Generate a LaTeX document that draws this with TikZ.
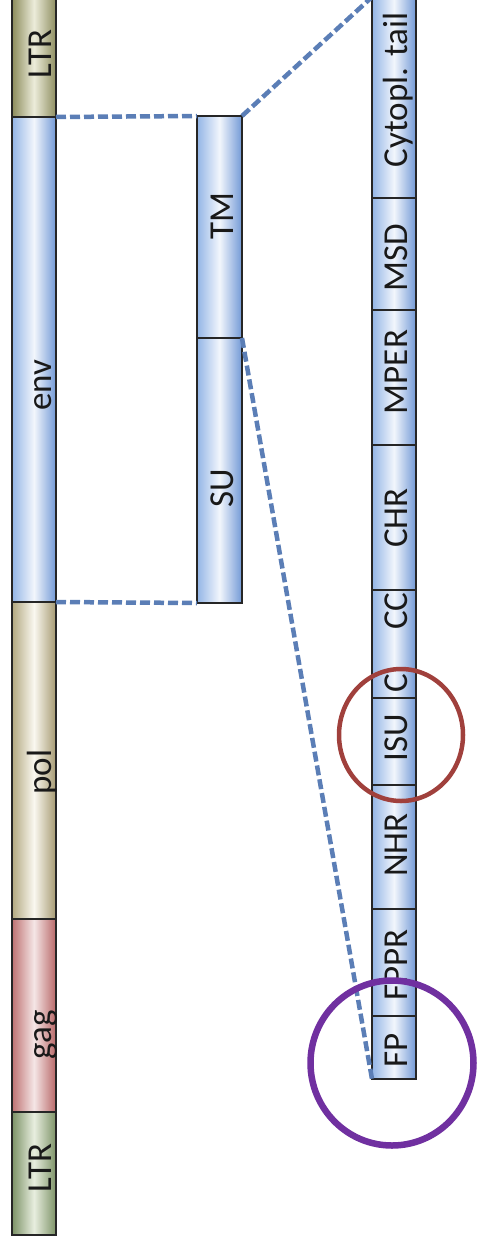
\documentclass[tikz,border=0pt]{standalone}
\usepackage{fontspec}
\setmainfont{Carlito}
\usetikzlibrary{shapes.geometric}

\definecolor{blueL}{HTML}{93B5E6}
\definecolor{blueM}{HTML}{F2F6FC}
\definecolor{blueR}{HTML}{7299D6}
\definecolor{oliveL}{HTML}{8C8C5C}
\definecolor{oliveM}{HTML}{ECECDA}
\definecolor{oliveR}{HTML}{8E8E60}
\definecolor{greenL}{HTML}{7C9266}
\definecolor{greenM}{HTML}{E8EEDF}
\definecolor{greenR}{HTML}{7D9367}
\definecolor{gagL}{HTML}{BE7272}
\definecolor{gagM}{HTML}{F5E6E6}
\definecolor{gagR}{HTML}{B86868}
\definecolor{polL}{HTML}{B2A880}
\definecolor{polM}{HTML}{FAF8F0}
\definecolor{polR}{HTML}{A69A72}
\definecolor{linkblue}{HTML}{5B7EB6}
\definecolor{ringred}{HTML}{A0403C}
\definecolor{ringpurple}{HTML}{7030A0}

% a shaded segment of a bar, given by its corners
\newcommand\seg[6]{%
  \node[#6, minimum width={(#4)-(#2)}, minimum height={(#5)-(#3)}]
    (#1) at ({((#2)+(#4))/2},{((#3)+(#5))/2}) {};}

\begin{document}
\begin{tikzpicture}[x=1pt,y=-1pt,
  seg/.style={draw=black!85, line width=1.2pt, rectangle, inner sep=0pt, outer sep=0pt},
  blueseg/.style={seg, left color=blueL, right color=blueR, middle color=blueM},
  ltrtop/.style={seg, left color=oliveL, right color=oliveR, middle color=oliveM},
  ltrbot/.style={seg, left color=greenL, right color=greenR, middle color=greenM},
  gagseg/.style={seg, left color=gagL, right color=gagR, middle color=gagM},
  polseg/.style={seg, left color=polL, right color=polR, middle color=polM},
  lab/.style={rotate=90, anchor=base, inner sep=0pt, text=black!90,
    font=\fontsize{35}{35}\selectfont},
  link/.style={draw=linkblue, line width=4.5pt, dash pattern=on 10pt off 4pt},
  ring/.style={ellipse, inner sep=0pt},
]
\useasboundingbox (0,0) rectangle (478,1250);
\clip (0,0) rectangle (478,1250);

% provirus genome
\seg{ltrA}{12}{-10}{56}{117}{ltrtop}
\seg{env}{12}{117}{56}{602}{blueseg}
\seg{pol}{12}{602}{56}{919}{polseg}
\seg{gag}{12}{919}{56}{1112}{gagseg}
\seg{ltrB}{12}{1112}{56}{1235}{ltrbot}
\node[lab] (t-ltrA) at (51,54) {LTR};
\node[lab] (t-env) at (51,385) {env};
\node[lab] (t-pol) at (51,772) {pol};
\node[lab] (t-gag) at (51,1035) {gag};
\node[lab] (t-ltrB) at (51,1168) {LTR};

% env subunits
\seg{TM}{197}{116}{242}{338}{blueseg}
\seg{SU}{197}{338}{242}{603}{blueseg}
\node[lab] (t-TM) at (233,216) {TM};
\node[lab] (t-SU) at (233,488) {SU};

% domains of the transmembrane subunit
\seg{cyto}{372}{-3}{416}{198}{blueseg}
\seg{MSD}{372}{198}{416}{310}{blueseg}
\seg{MPER}{372}{310}{416}{445}{blueseg}
\seg{CHR}{372}{445}{416}{590}{blueseg}
\seg{CC}{372}{590}{416}{698}{blueseg}
\seg{ISU}{372}{698}{416}{785}{blueseg}
\seg{NHR}{372}{785}{416}{909}{blueseg}
\seg{FPPR}{372}{909}{416}{1016}{blueseg}
\seg{FP}{372}{1016}{416}{1079}{blueseg}
\node[lab] (t-cyto) at (407,90) {Cytopl. tail};
\node[lab] (t-MSD) at (407,258) {MSD};
\node[lab] (t-MPER) at (407,372) {MPER};
\node[lab] (t-CHR) at (407,518) {CHR};
\node[lab] (t-CC) at (407,611) {CC};
\begin{scope}
  \clip (CC.north west) rectangle (CC.south east);
  \node[lab] (t-C) at (407,683) {C};
\end{scope}
\node[lab] (t-ISU) at (407,738) {ISU};
\node[lab] (t-NHR) at (407,845) {NHR};
\node[lab] (t-FPPR) at (407,965) {FPPR};
\node[lab] (t-FP) at (407,1050) {FP};

% zoom-in connectors
\draw[link] (env.north east) -- (TM.north west);
\draw[link] (env.south east) -- (SU.south west);
\draw[link] (TM.north east) -- (cyto.north west);
\draw[link] (SU.north east) -- (FP.south west);

% highlighted regions
\node[ring, draw=ringred, line width=4.5pt, minimum width=124, minimum height=132] (ringISU) at (401,735) {};
\node[ring, draw=ringpurple, line width=6.5pt, minimum width=163, minimum height=165] (ringFP) at (392,1063) {};
\end{tikzpicture}
\end{document}
